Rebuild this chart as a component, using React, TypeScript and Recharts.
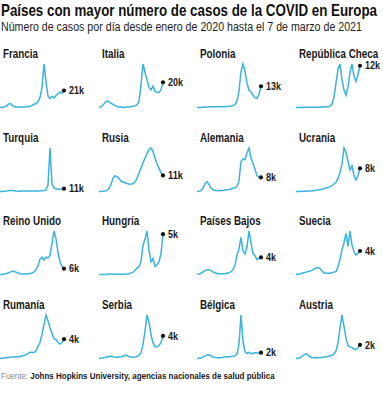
import { useLayoutEffect, useRef, useState } from "react";
import type { CSSProperties, ReactNode } from "react";
import { LineChart, Line, XAxis, YAxis } from "recharts";

// fechas de muestra (aprox. cada 13 días) desde enero 2020 hasta el 7 de marzo de 2021
const FECHAS = [
  "2020-01-22", "2020-02-04", "2020-02-17", "2020-03-01", "2020-03-14", "2020-03-27",
  "2020-04-09", "2020-04-22", "2020-05-05", "2020-05-18", "2020-05-31", "2020-06-13",
  "2020-06-26", "2020-07-09", "2020-07-22", "2020-08-04", "2020-08-17", "2020-08-30",
  "2020-09-12", "2020-09-25", "2020-10-08", "2020-10-21", "2020-11-03", "2020-11-16",
  "2020-11-29", "2020-12-12", "2020-12-25", "2021-01-07", "2021-01-20", "2021-02-02",
  "2021-02-15", "2021-02-28", "2021-03-07",
];

// casos diarios, en miles
const FRANCIA = [0, 0.2, 0.5, 1.5, 3.5, 5, 3, 1.2, 0.6, 0.5, 0.5, 0.5, 0.6, 0.8, 1, 1.5, 2.5, 4, 5, 7, 12.5, 25, 54, 32, 14, 11, 14, 12, 15, 17, 19, 18, 21];
const ITALIA = [0, 0.5, 2, 4, 5.3, 4.5, 3.5, 2.5, 1.5, 0.8, 0.4, 0.3, 0.2, 0.2, 0.3, 0.4, 0.8, 1, 1.3, 2, 5, 18, 34.6, 28, 22, 16, 14, 17, 13, 12, 12, 14, 20];
const POLONIA = [0, 0, 0, 0.1, 0.2, 0.3, 0.4, 0.4, 0.4, 0.4, 0.4, 0.5, 0.4, 0.5, 0.5, 0.6, 0.7, 0.9, 1.2, 1.8, 4, 10, 22, 26.6, 22, 15, 10.5, 9.5, 7.5, 6, 5.5, 8, 13];
const CHECA = [0, 0, 0, 0, 0.05, 0.1, 0.1, 0.05, 0.05, 0.05, 0.05, 0.1, 0.1, 0.15, 0.2, 0.2, 0.2, 0.4, 1, 3, 7, 11, 12.5, 8, 5, 3.5, 6, 10, 12.5, 9, 7.5, 9.5, 12];
const TURQUIA = [0, 0, 0.5, 1.5, 3, 4, 3.5, 2.5, 1.5, 1.2, 1.2, 1.5, 1.5, 1.7, 1.8, 1.7, 1.6, 1.8, 2, 2.2, 2.5, 3, 4, 6, 25, 170, 30, 14, 10, 9.5, 9, 10, 11];
const RUSIA = [0, 0, 0.1, 0.3, 0.8, 2, 5, 9, 10.8, 10, 9, 7, 6.5, 6, 5.5, 5.2, 5, 5.5, 6.5, 9, 12.6, 16, 19.5, 23, 26, 28.6, 29.8, 27.5, 23, 19, 16, 13, 11];
const ALEMANIA = [0, 0.1, 0.5, 2, 4.5, 5.6, 4, 2, 1, 0.6, 0.5, 0.4, 0.5, 0.6, 0.8, 1, 1.1, 1.4, 1.8, 2.2, 2.8, 6, 17, 18.5, 18, 22, 24.7, 19, 16, 12.5, 9, 8, 8];
const UCRANIA = [0, 0, 0, 0.05, 0.1, 0.1, 0.2, 0.2, 0.3, 0.3, 0.4, 0.5, 0.7, 0.8, 1, 1.2, 1.4, 1.6, 2, 2.6, 3.2, 4.5, 6.5, 9.5, 15, 13.5, 10.5, 7.5, 8.8, 5.5, 4, 5.5, 8];
const REINO_UNIDO = [0, 0.2, 0.5, 0.8, 1.5, 2.5, 3.2, 3.3, 2.5, 1.5, 0.8, 0.6, 0.5, 0.6, 0.8, 1, 1.5, 2.5, 5, 9, 16, 18, 15, 18, 17, 20, 32, 45, 37, 23, 13, 8, 6];
const HUNGRIA = [0, 0, 0, 0, 0.02, 0.05, 0.05, 0.05, 0.03, 0.03, 0.03, 0.03, 0.03, 0.05, 0.05, 0.1, 0.2, 0.3, 0.5, 0.8, 1, 1.6, 3.6, 4.4, 5.4, 3, 1.6, 2, 1, 1.2, 1.6, 2.6, 5];
const PAISES_BAJOS = [0, 0.1, 0.3, 0.6, 0.9, 1.1, 1.1, 0.9, 0.6, 0.4, 0.25, 0.2, 0.2, 0.2, 0.2, 0.3, 0.4, 0.7, 1.1, 2.2, 4.5, 6, 8.7, 5.5, 4.8, 6.5, 10.2, 7.5, 4.9, 4.4, 3.5, 3.8, 4];
const SUECIA = [0, 0.05, 0.1, 0.2, 0.3, 0.4, 0.5, 0.6, 0.7, 0.9, 1.1, 1.2, 1, 0.6, 0.3, 0.2, 0.2, 0.2, 0.3, 0.4, 0.5, 1.3, 2.6, 4.2, 5.4, 7, 4.8, 7.4, 5, 3.9, 3.3, 3.6, 4];
const RUMANIA = [0, 0.05, 0.1, 0.15, 0.2, 0.25, 0.3, 0.35, 0.35, 0.3, 0.4, 0.5, 0.6, 0.8, 1, 1.3, 1.3, 1.2, 1.6, 2.5, 3.3, 5, 7, 9, 7.8, 6.3, 5.2, 4.1, 3.9, 3.3, 3, 3.3, 4];
const SERBIA = [0, 0.05, 0.1, 0.2, 0.3, 0.35, 0.4, 0.3, 0.2, 0.2, 0.25, 0.3, 0.4, 0.55, 0.5, 0.35, 0.25, 0.2, 0.25, 0.35, 0.6, 1, 2.5, 4.8, 7.7, 6.5, 4.2, 2.8, 2.1, 2.1, 2.3, 2.8, 4];
const BELGICA = [0, 0.1, 0.2, 0.5, 0.9, 1.2, 1.3, 1, 0.5, 0.35, 0.3, 0.3, 0.3, 0.4, 0.5, 0.6, 0.6, 0.7, 0.8, 0.9, 1.6, 5, 15, 6, 2.4, 1.7, 2.2, 1.6, 1.8, 2, 1.9, 1.9, 2];
const AUSTRIA = [0, 0.05, 0.1, 0.3, 0.55, 0.7, 0.5, 0.25, 0.15, 0.12, 0.12, 0.12, 0.15, 0.15, 0.2, 0.25, 0.3, 0.4, 0.45, 0.7, 1.1, 2.3, 4.5, 6.4, 4.7, 3, 1.9, 1.7, 1.6, 1.4, 1.3, 1.6, 2];

const PAISES = [
  "Francia", "Italia", "Polonia", "República Checa",
  "Turquia", "Rusia", "Alemania", "Ucrania",
  "Reino Unido", "Hungría", "Países Bajos", "Suecia",
  "Rumanía", "Serbia", "Bélgica", "Austria",
];
const SERIES = [
  FRANCIA, ITALIA, POLONIA, CHECA,
  TURQUIA, RUSIA, ALEMANIA, UCRANIA,
  REINO_UNIDO, HUNGRIA, PAISES_BAJOS, SUECIA,
  RUMANIA, SERBIA, BELGICA, AUSTRIA,
];
const ETIQUETAS = [
  "21k", "20k", "13k", "12k",
  "11k", "11k", "8k", "8k",
  "6k", "5k", "4k", "4k",
  "4k", "4k", "2k", "2k",
];

const FONT = "'Liberation Sans', Arial, sans-serif";
const AZUL = "#38b4de";

const COL_X = [0, 99, 197, 296];
const ROW_Y = [64, 147.5, 231, 314.5];
const PLOT_W = 64;
const PLOT_H = 43.5;
const PAD = 8;

// texto HTML comprimido horizontalmente hasta un ancho dado (fuente condensada del original)
function FitText({ left, top, width, style, children }: {
  left: number; top: number; width: number; style: CSSProperties; children: ReactNode;
}) {
  const ref = useRef<HTMLDivElement>(null);
  const [scale, setScale] = useState(0.85);
  useLayoutEffect(() => {
    if (ref.current && ref.current.scrollWidth > 0) setScale(width / ref.current.scrollWidth);
  }, [width]);
  return (
    <div
      ref={ref}
      style={{
        position: "absolute", left, top, whiteSpace: "nowrap", fontFamily: FONT,
        transform: `scaleX(${scale})`, transformOrigin: "left top", ...style,
      }}
    >
      {children}
    </div>
  );
}

function Panel({ nombre, valores, etiqueta, x, y }: {
  nombre: string; valores: number[]; etiqueta: string; x: number; y: number;
}) {
  const data = FECHAS.map((f, i) => ({ fecha: f, casos: valores[i] }));
  const last = data.length - 1;
  const renderDot = (p: any) => {
    if (p.index !== last) return <g key={p.index} />;
    return (
      <g key={p.index}>
        <circle cx={p.cx} cy={p.cy} r={2.1} fill="#111" />
        <text
          x={p.cx + 5} y={p.cy + 3.6} fontSize={10} fontWeight={700} fill="#1a1a1a"
          fontFamily={FONT} textLength={etiqueta.length * 5} lengthAdjust="spacingAndGlyphs"
        >
          {etiqueta}
        </text>
      </g>
    );
  };
  return (
    <>
      <div
        style={{
          position: "absolute", left: x + 3, top: y - 16, fontFamily: FONT,
          fontWeight: 700, fontSize: 12, lineHeight: "12px", color: "#1a1a1a", whiteSpace: "nowrap",
          transform: "scaleX(0.82)", transformOrigin: "left top",
        }}
      >
        {nombre}
      </div>
      <div style={{ position: "absolute", left: x - 2, top: y - PAD }}>
        <LineChart
          width={PLOT_W + 32}
          height={PLOT_H + PAD + 2}
          data={data}
          margin={{ top: PAD, right: 30, bottom: 2, left: 2 }}
        >
          <XAxis dataKey="fecha" hide />
          <YAxis hide domain={[0, "dataMax"]} />
          <Line
            type="linear"
            dataKey="casos"
            stroke={AZUL}
            strokeWidth={1.5}
            dot={renderDot}
            activeDot={false}
            isAnimationActive={false}
          />
        </LineChart>
      </div>
    </>
  );
}

export default function App() {
  return (
    <div style={{ position: "relative", width: 383, height: 396, background: "#fff", overflow: "hidden" }}>
      <style>{"body{margin:0}"}</style>
      <FitText left={1} top={2} width={376}
        style={{ fontSize: 17, lineHeight: "17px", fontWeight: 700, color: "#111" }}>
        Países con mayor número de casos de la COVID en Europa
      </FitText>
      <FitText left={1} top={20.5} width={361}
        style={{ fontSize: 12, lineHeight: "12px", color: "#222" }}>
        Número de casos por día desde enero de 2020 hasta el 7 de marzo de 2021
      </FitText>
      <FitText left={1} top={371} width={274}
        style={{ fontSize: 9.5, lineHeight: "10px", color: "#1a1a1a" }}>
        <span style={{ color: "#8a8a8a" }}>Fuente: </span>
        <b>Johns Hopkins University, agencias nacionales de salud pública</b>
      </FitText>
      {PAISES.map((p, i) => (
        <Panel
          key={p}
          nombre={p}
          valores={SERIES[i]}
          etiqueta={ETIQUETAS[i]}
          x={COL_X[i % 4]}
          y={ROW_Y[Math.floor(i / 4)]}
        />
      ))}
    </div>
  );
}
